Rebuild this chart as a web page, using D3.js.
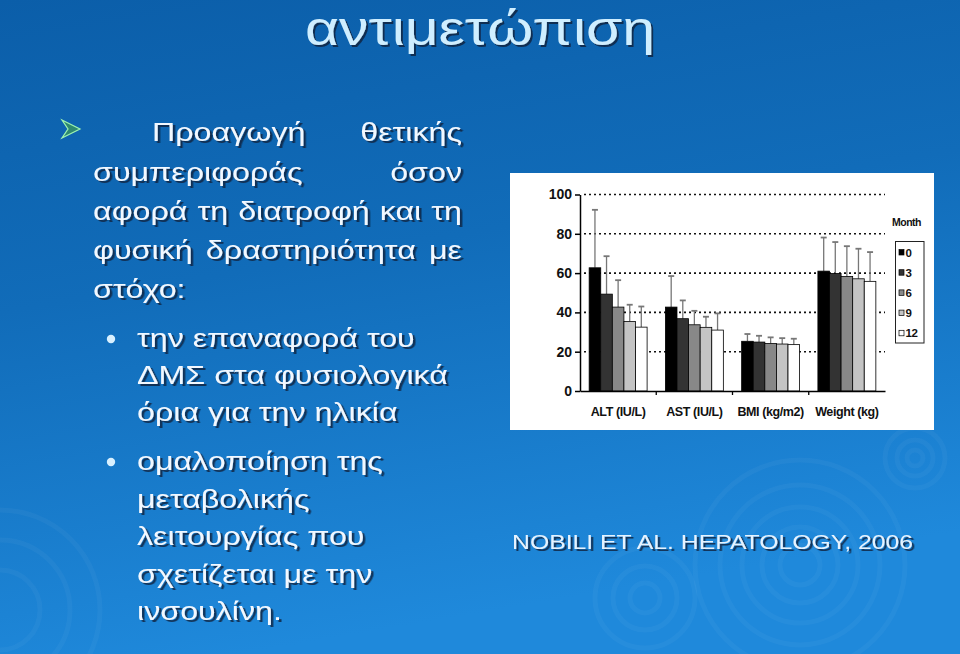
<!DOCTYPE html>
<html>
<head>
<meta charset="utf-8">
<script src="https://cdn.jsdelivr.net/npm/d3@7"></script>
<style>
  html, body { margin: 0; padding: 0; background: #0e64ad; }
  svg { display: block; }
</style>
</head>
<body>
<script>
// chart data
const categories = ['ALT (IU/L)', 'AST (IU/L)', 'BMI (kg/m2)', 'Weight (kg)'];
const months = ['0', '3', '6', '9', '12'];
const altMean = [62.7, 49.3, 42.7, 35.4, 32.5];
const altSD = [29.5, 19.3, 13.7, 8.5, 10.5];
const astMean = [42.7, 36.8, 33.7, 32.4, 31.0];
const astSD = [15.8, 9.3, 7.1, 5.4, 8.5];
const bmiMean = [25.3, 24.9, 24.2, 23.9, 23.6];
const bmiSD = [3.7, 3.2, 3.1, 3.0, 3.0];
const weightMean = [61.0, 59.8, 58.3, 57.1, 55.8];
const weightSD = [17.1, 16.0, 15.4, 15.3, 14.9];
const yTicks = [0, 20, 40, 60, 80, 100];
const monthColors = ['#000000', '#333333', '#888888', '#c4c4c4', '#ffffff'];

// slide text
const title = 'αντιμετώπιση';
const citation = 'NOBILI ET AL. HEPATOLOGY, 2006';

const means = [altMean, astMean, bmiMean, weightMean];
const sds = [altSD, astSD, bmiSD, weightSD];
const rows = [];
categories.forEach((c, ci) => {
    months.forEach((m, mi) => {
        rows.push({cat: c, month: m, mi: mi, mean: means[ci][mi], sd: sds[ci][mi]});
    });
});

const svg = d3.select('body')
    .append('svg')
    .attr('width', 960)
    .attr('height', 654);

const defs = svg.append('defs');
const grad = defs.append('linearGradient')
    .attr('id', 'bg')
    .attr('x1', 0).attr('y1', 0).attr('x2', 0.25).attr('y2', 1);
grad.append('stop').attr('offset', '0%').attr('stop-color', '#0b5ea9');
grad.append('stop').attr('offset', '45%').attr('stop-color', '#116cb9');
grad.append('stop').attr('offset', '100%').attr('stop-color', '#1f89db');

defs.append('filter')
    .attr('id', 'shadow')
    .attr('x', '-10%').attr('y', '-20%').attr('width', '130%').attr('height', '150%')
    .append('feDropShadow')
    .attr('dx', 2)
    .attr('dy', 2)
    .attr('stdDeviation', 0.4)
    .attr('flood-color', '#07203a')
    .attr('flood-opacity', 0.8);

svg.append('rect')
    .attr('width', 960)
    .attr('height', 654)
    .attr('fill', 'url(#bg)');

// faint ripples in the background
const ripples = [
    {cx: 800, cy: 565, r: [20, 38, 58, 80, 105]},
    {cx: 915, cy: 458, r: [8, 18, 30]},
    {cx: 645, cy: 598, r: [15, 32, 50]},
    {cx: 0, cy: 610, r: [40, 70, 100]}
];
ripples.forEach(rp => {
    svg.append('g').selectAll('circle')
        .data(rp.r)
        .enter()
        .append('circle')
        .attr('cx', rp.cx)
        .attr('cy', rp.cy)
        .attr('r', d => d)
        .attr('fill', 'none')
        .attr('stroke', '#ffffff')
        .attr('stroke-opacity', 0.035)
        .attr('stroke-width', 5);
});

// text with a dark shadow; the slide is stretched sideways, so sx widens glyphs.
// opts.width spreads the words over that width (justified line)
function slideText(x, y, str, size, opts) {
    opts = opts || {};
    const sx = opts.sx || 1.24;
    const g = svg.append('g')
        .attr('transform', `translate(${x},${y}) scale(${sx},1)`)
        .attr('filter', 'url(#shadow)')
        .attr('fill', opts.fill || '#f2f8ff')
        .attr('font-family', opts.font || 'Liberation Sans, Arial, sans-serif')
        .attr('font-size', size);
    if (opts.width) {
        const t = g.append('text');
        const words = str.split(' ');
        const spans = words.map(w => t.append('tspan').text(w));
        const lens = spans.map(s => s.node().getComputedTextLength());
        const gap = (opts.width / sx - d3.sum(lens)) / (words.length - 1);
        let pos = 0;
        spans.forEach((s, i) => {
            s.attr('x', pos);
            pos += lens[i] + gap;
        });
    } else {
        g.append('text')
            .attr('text-anchor', opts.anchor || 'start')
            .text(str);
    }
}

svg.append('text')
    .attr('x', 305)
    .attr('y', 45)
    .attr('textLength', 350)
    .attr('lengthAdjust', 'spacingAndGlyphs')
    .attr('font-family', 'Liberation Sans, Arial, sans-serif')
    .attr('font-size', 48)
    .attr('fill', '#cfeeff')
    .attr('filter', 'url(#shadow)')
    .text(title);

// arrow bullet
svg.append('path')
    .attr('d', 'M62,120 L80,129 L62,138 L68,129 Z')
    .attr('fill', '#2e8a70')
    .attr('stroke', '#9ff5b0')
    .attr('stroke-width', 1.2);

const fs = 26;
slideText(152, 141, 'Προαγωγή θετικής', fs, {width: 310});
slideText(93, 181, 'συμπεριφοράς όσον', fs, {width: 369});
slideText(93, 220, 'αφορά τη διατροφή και τη', fs, {width: 369});
slideText(93, 259, 'φυσική δραστηριότητα με', fs, {width: 369});
slideText(93, 298, 'στόχο:', fs);

const subLines = [
    [347, 'την επαναφορά του'],
    [384, 'ΔΜΣ στα φυσιολογικά'],
    [421, 'όρια για την ηλικία'],
    [470, 'ομαλοποίηση της'],
    [508, 'μεταβολικής'],
    [545, 'λειτουργίας που'],
    [583, 'σχετίζεται με την'],
    [620, 'ινσουλίνη.']
];
subLines.forEach(l => slideText(137, l[0], l[1], fs));

[339, 462].forEach(cy => {
    svg.append('circle').attr('cx', 111).attr('cy', cy).attr('r', 4.2).attr('fill', '#d8f0ff');
});

slideText(512, 549, citation, 21, {fill: '#e6f3ff', sx: 1.18});

// chart panel
svg.append('rect')
    .attr('x', 510)
    .attr('y', 173)
    .attr('width', 424)
    .attr('height', 257)
    .attr('fill', '#ffffff');

const x0 = d3.scaleBand()
    .domain(categories)
    .range([580, 885])
    .paddingInner(0.24)
    .paddingOuter(0.12);

const x1 = d3.scaleBand()
    .domain(months)
    .range([0, x0.bandwidth()]);

const y = d3.scaleLinear()
    .domain([0, 100])
    .range([391, 194.5]);

const chartFont = 'Liberation Sans, Arial, sans-serif';

// dotted gridlines
svg.append('g')
    .selectAll('line')
    .data(yTicks.filter(t => t > 0))
    .enter()
    .append('line')
    .attr('x1', 584)
    .attr('x2', 885)
    .attr('y1', d => y(d))
    .attr('y2', d => y(d))
    .attr('stroke', '#111')
    .attr('stroke-width', 1.6)
    .attr('stroke-dasharray', '2,3');

// error bars (upper half only)
const err = svg.append('g')
    .selectAll('g')
    .data(rows)
    .enter()
    .append('g')
    .attr('stroke', '#777')
    .attr('stroke-width', 1.3);
err.append('line')
    .attr('x1', d => x0(d.cat) + x1(d.month) + x1.bandwidth() / 2)
    .attr('x2', d => x0(d.cat) + x1(d.month) + x1.bandwidth() / 2)
    .attr('y1', d => y(d.mean))
    .attr('y2', d => y(d.mean + d.sd));
err.append('line')
    .attr('x1', d => x0(d.cat) + x1(d.month) + x1.bandwidth() / 2 - 3)
    .attr('x2', d => x0(d.cat) + x1(d.month) + x1.bandwidth() / 2 + 3)
    .attr('y1', d => y(d.mean + d.sd))
    .attr('y2', d => y(d.mean + d.sd))
    .attr('stroke-width', 1.8);

// bars
svg.append('g')
    .selectAll('rect')
    .data(rows)
    .enter()
    .append('rect')
    .attr('x', d => x0(d.cat) + x1(d.month))
    .attr('y', d => y(d.mean))
    .attr('width', x1.bandwidth())
    .attr('height', d => y(0) - y(d.mean))
    .attr('fill', d => monthColors[d.mi])
    .attr('stroke', '#000')
    .attr('stroke-width', 0.8);

// y axis
const yAxis = svg.append('g')
    .attr('transform', 'translate(580,0)')
    .call(d3.axisLeft(y).tickValues(yTicks).tickSize(5).tickSizeOuter(0));
yAxis.select('.domain').attr('stroke', '#000').attr('stroke-width', 1.5);
yAxis.selectAll('.tick line').attr('stroke-width', 1.5);
yAxis.selectAll('text')
    .attr('font-family', chartFont)
    .attr('font-weight', 'bold')
    .attr('font-size', 14)
    .attr('x', -8)
    .attr('fill', '#111');

// x axis
const xAxis = svg.append('g')
    .attr('transform', 'translate(0,391)')
    .call(d3.axisBottom(x0).tickSize(0).tickSizeOuter(0).tickPadding(16));
xAxis.select('.domain').attr('stroke', '#000').attr('stroke-width', 1.5);
xAxis.selectAll('text')
    .attr('font-family', chartFont)
    .attr('font-weight', 'bold')
    .attr('font-size', 12.5)
    .attr('letter-spacing', -0.4)
    .attr('fill', '#111');

// ticks between the groups
const step = x0.step();
xAxis.append('g')
    .selectAll('line')
    .data(categories.slice(1))
    .enter()
    .append('line')
    .attr('x1', d => x0(d) - step * x0.paddingInner() / 2)
    .attr('x2', d => x0(d) - step * x0.paddingInner() / 2)
    .attr('y1', 0)
    .attr('y2', 4)
    .attr('stroke', '#000')
    .attr('stroke-width', 1.3);

// legend
svg.append('text')
    .attr('x', 892)
    .attr('y', 226)
    .attr('font-family', chartFont)
    .attr('font-weight', 'bold')
    .attr('font-size', 10.5)
    .attr('letter-spacing', -0.5)
    .attr('fill', '#111')
    .text('Month');

svg.append('rect')
    .attr('x', 895.5)
    .attr('y', 241.5)
    .attr('width', 28.5)
    .attr('height', 101.5)
    .attr('fill', '#fff')
    .attr('stroke', '#222')
    .attr('stroke-width', 1);

const leg = svg.append('g')
    .selectAll('g')
    .data(months)
    .enter()
    .append('g')
    .attr('transform', (d, i) => `translate(899,${252.5 + i * 20.2})`);
leg.append('rect')
    .attr('x', 0)
    .attr('y', -3)
    .attr('width', 5)
    .attr('height', 5.5)
    .attr('fill', (d, i) => monthColors[i])
    .attr('stroke', '#000')
    .attr('stroke-width', 0.7);
leg.append('text')
    .attr('x', 6.5)
    .attr('y', 4)
    .attr('font-family', chartFont)
    .attr('font-weight', 'bold')
    .attr('font-size', 11.5)
    .attr('letter-spacing', -0.3)
    .attr('fill', '#111')
    .text(d => d);
</script>
</body>
</html>
